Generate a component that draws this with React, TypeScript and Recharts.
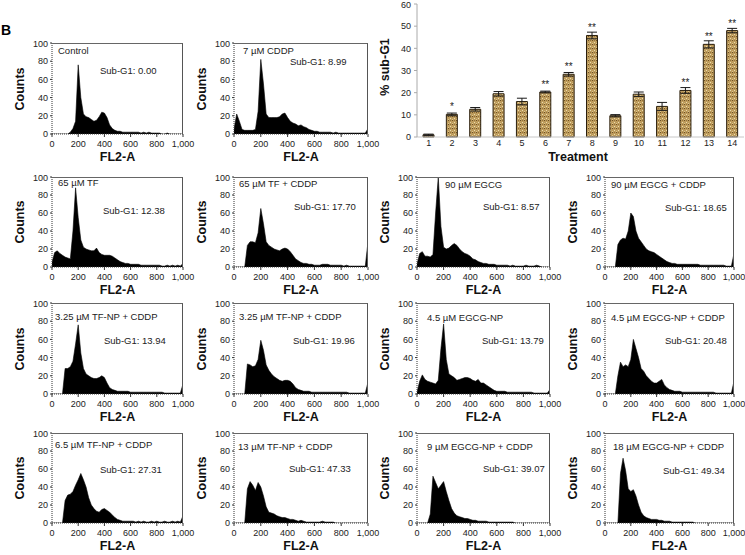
import { Area, AreaChart, Bar, BarChart, ErrorBar, LabelList, XAxis, YAxis } from 'recharts'

const FONT = '"Liberation Sans", Arial, sans-serif'

// FL2-A bins (channel), shared by every histogram
const fl2Bins = [
  0, 20, 40, 60, 80, 100, 120, 140, 160, 180, 200, 220, 240, 260, 280, 300, 320, 340, 360, 380, 400, 420, 440, 460,
  480, 500, 520, 540, 560, 580, 600, 620, 640, 660, 680, 700, 720, 740, 760, 780, 800, 820, 840, 860, 880, 900, 920,
  940, 960, 980, 1000,
]
const xTicks = [0, 200, 400, 600, 800, 1000]
const yTicks = [0, 20, 40, 60, 80, 100]

// counts per bin
const controlCounts = [0, 0, 0, 0, 0, 0, 0, 2, 6, 14, 76, 40, 22, 19, 18, 16, 14, 15, 19, 24, 23, 18, 10, 6, 4, 3, 3, 2, 2, 2, 2, 2, 2, 2, 1, 2, 1, 2, 1, 1, 1, 1, 0, 0, 1, 0, 0, 0, 0, 0, 0]
const cddpCounts = [5, 22, 14, 5, 4, 4, 4, 4, 5, 25, 82, 55, 22, 18, 18, 18, 18, 19, 22, 23, 18, 14, 12, 11, 9, 10, 8, 7, 5, 4, 3, 3, 2, 2, 2, 2, 2, 1, 2, 1, 1, 1, 1, 1, 1, 1, 1, 1, 1, 1, 6]
const tfCounts = [5, 16, 18, 15, 13, 11, 10, 9, 40, 88, 55, 30, 22, 20, 19, 18, 18, 21, 16, 14, 13, 13, 13, 12, 10, 8, 6, 5, 4, 4, 3, 3, 3, 3, 2, 2, 2, 2, 2, 2, 2, 2, 1, 1, 2, 1, 2, 1, 2, 1, 4]
const tfCddpCounts = [0, 0, 0, 0, 0, 24, 28, 28, 27, 38, 65, 48, 28, 24, 22, 20, 19, 18, 20, 21, 20, 17, 13, 9, 7, 5, 4, 4, 3, 3, 2, 2, 2, 3, 3, 3, 2, 2, 2, 2, 2, 1, 2, 1, 1, 1, 1, 1, 1, 1, 28]
const egcgCounts = [3, 15, 17, 12, 12, 11, 14, 60, 100, 45, 22, 20, 21, 24, 26, 24, 20, 17, 15, 14, 12, 9, 8, 6, 5, 4, 4, 3, 3, 3, 2, 2, 2, 2, 2, 1, 2, 1, 1, 1, 1, 2, 1, 1, 1, 2, 1, 0, 0, 0, 0]
const egcgCddpCounts = [0, 0, 0, 0, 0, 25, 30, 32, 31, 40, 60, 56, 40, 32, 28, 24, 20, 18, 17, 16, 14, 12, 10, 8, 6, 5, 4, 4, 3, 3, 3, 3, 3, 3, 3, 3, 3, 2, 2, 2, 2, 2, 2, 2, 2, 2, 2, 1, 1, 1, 15]
const tfNp325aCounts = [0, 0, 0, 0, 0, 28, 28, 30, 36, 55, 76, 45, 28, 22, 20, 18, 17, 17, 18, 20, 18, 12, 7, 5, 4, 3, 3, 3, 3, 3, 2, 2, 2, 2, 2, 2, 2, 2, 2, 2, 2, 2, 2, 1, 1, 1, 1, 1, 1, 1, 11]
const tfNp325bCounts = [0, 0, 0, 0, 0, 33, 32, 30, 31, 38, 59, 48, 32, 26, 22, 19, 17, 15, 14, 15, 15, 14, 11, 7, 5, 4, 3, 3, 3, 2, 2, 2, 2, 2, 2, 2, 2, 2, 2, 2, 2, 2, 2, 1, 1, 1, 1, 1, 1, 1, 13]
const egcgNp45Counts = [2, 14, 21, 16, 14, 13, 12, 11, 15, 50, 77, 38, 22, 20, 18, 15, 16, 17, 18, 18, 17, 15, 14, 16, 12, 12, 10, 8, 6, 4, 3, 3, 3, 3, 2, 2, 2, 2, 2, 2, 2, 2, 2, 2, 1, 1, 1, 1, 1, 1, 5]
const egcgNp45CddpCounts = [0, 0, 0, 0, 0, 20, 35, 30, 32, 30, 38, 60, 50, 40, 28, 25, 20, 17, 14, 12, 12, 14, 16, 10, 7, 5, 4, 3, 3, 3, 2, 2, 2, 2, 2, 2, 2, 2, 2, 2, 2, 2, 2, 1, 1, 1, 1, 1, 1, 1, 14]
const tfNp65CddpCounts = [0, 0, 0, 0, 0, 25, 31, 32, 35, 42, 48, 55, 48, 40, 28, 20, 16, 13, 12, 15, 16, 14, 12, 9, 6, 4, 3, 2, 2, 2, 2, 2, 1, 2, 1, 2, 1, 1, 2, 1, 2, 1, 1, 2, 1, 1, 2, 1, 2, 1, 8]
const tfNp13CddpCounts = [0, 0, 0, 0, 0, 38, 46, 42, 36, 45, 40, 30, 18, 12, 11, 10, 8, 7, 6, 6, 5, 4, 4, 3, 2, 3, 2, 1, 1, 1, 1, 1, 1, 2, 1, 1, 1, 1, 0, 0, 0, 0, 0, 0, 0, 0, 0, 0, 0, 0, 0]
const egcgNp9CddpCounts = [0, 0, 0, 0, 0, 10, 52, 45, 38, 42, 46, 35, 25, 16, 11, 8, 7, 6, 5, 5, 4, 3, 3, 2, 2, 2, 2, 1, 1, 1, 1, 1, 1, 1, 1, 1, 1, 0, 0, 0, 0, 0, 0, 0, 0, 0, 0, 0, 0, 0, 0]
const egcgNp18CddpCounts = [0, 0, 0, 0, 0, 0, 55, 72, 58, 38, 35, 37, 30, 20, 12, 8, 6, 5, 4, 4, 4, 3, 3, 2, 2, 2, 1, 1, 1, 1, 1, 1, 1, 1, 1, 0, 0, 0, 0, 0, 0, 0, 0, 0, 0, 0, 0, 0, 0, 0, 0]

const panelTitles = [
  'Control', '7 µM CDDP', '65 µM TF', '65 µM TF + CDDP', '90 µM EGCG', '90 µM EGCG + CDDP',
  '3.25 µM TF-NP + CDDP', '3.25 µM TF-NP + CDDP', '4.5 µM EGCG-NP', '4.5 µM EGCG-NP + CDDP',
  '6.5 µM TF-NP + CDDP', '13 µM TF-NP + CDDP', '9 µM EGCG-NP + CDDP', '18 µM EGCG-NP + CDDP',
]
const panelSubG1 = ['0.00', '8.99', '12.38', '17.70', '8.57', '18.65', '13.94', '19.96', '13.79', '20.48', '27.31', '47.33', '39.07', '49.34']

// bar chart: % sub-G1 by treatment
const treatments = ['1', '2', '3', '4', '5', '6', '7', '8', '9', '10', '11', '12', '13', '14']
const subG1Mean = [1.0, 10.2, 12.5, 19.5, 16.0, 20.3, 28.3, 45.8, 9.6, 19.3, 13.8, 21.0, 41.8, 48.0]
const subG1Err = [0.3, 0.6, 0.8, 1.0, 1.5, 0.4, 0.8, 1.5, 0.5, 1.0, 1.8, 1.3, 1.6, 1.0]
const subG1Sig = ['', '*', '', '', '', '**', '**', '**', '', '', '', '**', '**', '**']

const colLeft = [52, 234, 417, 605]
const colWidth = [131, 134, 133, 129]
const rowTop = [43, 177, 303, 433]
const rowHeight = [91, 90, 91, 90]

// layout: which cell, where the two annotations sit (offsets inside plot)
const panels = [
  { counts: controlCounts, row: 0, col: 0, tx: 6, ty: 8, sx: 48, sy: 28 },
  { counts: cddpCounts, row: 0, col: 1, tx: 9, ty: 8, sx: 56, sy: 19 },
  { counts: tfCounts, row: 1, col: 0, tx: 6, ty: 6, sx: 51, sy: 34 },
  { counts: tfCddpCounts, row: 1, col: 1, tx: 5, ty: 7, sx: 60, sy: 30 },
  { counts: egcgCounts, row: 1, col: 2, tx: 28, ty: 8, sx: 66, sy: 30 },
  { counts: egcgCddpCounts, row: 1, col: 3, tx: 6, ty: 8, sx: 60, sy: 31 },
  { counts: tfNp325aCounts, row: 2, col: 0, tx: 3, ty: 14, sx: 52, sy: 38 },
  { counts: tfNp325bCounts, row: 2, col: 1, tx: 5, ty: 14, sx: 59, sy: 38 },
  { counts: egcgNp45Counts, row: 2, col: 2, tx: 10, ty: 15, sx: 65, sy: 38 },
  { counts: egcgNp45CddpCounts, row: 2, col: 3, tx: 6, ty: 15, sx: 60, sy: 38 },
  { counts: tfNp65CddpCounts, row: 3, col: 0, tx: 3, ty: 12, sx: 48, sy: 37 },
  { counts: tfNp13CddpCounts, row: 3, col: 1, tx: 4, ty: 14, sx: 55, sy: 36 },
  { counts: egcgNp9CddpCounts, row: 3, col: 2, tx: 10, ty: 14, sx: 66, sy: 36 },
  { counts: egcgNp18CddpCounts, row: 3, col: 3, tx: 8, ty: 14, sx: 58, sy: 38 },
]

const tickStyle = { fontSize: 9, fill: '#222', fontFamily: FONT }
const fmtFl2 = (v: number) => (v === 1000 ? '1,000' : String(v))

function Histogram({ idx }: { idx: number }) {
  const p = panels[idx]
  const left = colLeft[p.col]
  const width = colWidth[p.col]
  const top = rowTop[p.row]
  const height = rowHeight[p.row]
  const data = fl2Bins.map((x, i) => ({ x, y: p.counts[i] }))
  const txt = { position: 'absolute' as const, fontSize: 9.5, lineHeight: '12px', whiteSpace: 'nowrap' as const, color: '#222' }

  return (
    <>
      <div style={{ position: 'absolute', left: left - 26, top: top - 4 }}>
        <AreaChart width={width + 40} height={height + 26} data={data} margin={{ top: 4, right: 14, left: 0, bottom: 0 }}>
          <XAxis
            type="number"
            dataKey="x"
            domain={[0, 1000]}
            ticks={xTicks}
            tickFormatter={fmtFl2}
            height={22}
            tickSize={3}
            tickMargin={4}
            axisLine={{ stroke: '#333', strokeDasharray: '1 1' }}
            tickLine={{ stroke: '#333' }}
            tick={tickStyle}
            allowDataOverflow
          />
          <YAxis
            domain={[0, 100]}
            ticks={yTicks}
            width={26}
            tickSize={2}
            tickMargin={2}
            axisLine={{ stroke: '#333', strokeDasharray: '1 1' }}
            tickLine={{ stroke: '#333' }}
            tick={tickStyle}
            allowDataOverflow
          />
          <Area
            type="linear"
            dataKey="y"
            stroke="#000"
            strokeWidth={0.6}
            fill="#000"
            fillOpacity={1}
            dot={false}
            activeDot={false}
            isAnimationActive={false}
          />
        </AreaChart>
      </div>
      <div
        style={{
          position: 'absolute',
          left,
          top,
          width,
          height,
          boxSizing: 'border-box',
          borderTop: '1px solid #666',
          borderRight: '1px solid #555',
          pointerEvents: 'none',
        }}
      />
      <div style={{ ...txt, left: left + p.tx, top: top + p.ty - 6 }}>{panelTitles[idx]}</div>
      <div style={{ ...txt, left: left + p.sx, top: top + p.sy - 6 }}>Sub-G1: {panelSubG1[idx]}</div>
      <div
        style={{
          position: 'absolute',
          left: left - 32 - 30,
          top: top + height / 2 - 7,
          width: 60,
          height: 14,
          lineHeight: '14px',
          textAlign: 'center',
          fontSize: 12.5,
          fontWeight: 'bold',
          transform: 'rotate(-90deg)',
          color: '#111',
        }}
      >
        Counts
      </div>
      <div
        style={{
          position: 'absolute',
          left: left + width / 2 - 50,
          top: top + height + 23 - 7,
          width: 100,
          lineHeight: '14px',
          textAlign: 'center',
          fontSize: 12.5,
          fontWeight: 'bold',
          color: '#111',
        }}
      >
        FL2-A
      </div>
    </>
  )
}

// asterisks sit just above each bar
const renderSig = (props: any) => {
  const { x, y, width, value } = props
  if (!value) return null
  return (
    <text x={Number(x) + Number(width) / 2} y={Number(y) - 4} textAnchor="middle" fill="#222" fontSize={10} fontFamily={FONT}>
      {value}
    </text>
  )
}

function SubG1Bars() {
  const data = treatments.map((t, i) => ({ t, v: subG1Mean[i], e: subG1Err[i], sig: subG1Sig[i] }))
  return (
    <>
      <div style={{ position: 'absolute', left: 380, top: 0 }}>
        <BarChart width={365} height={151} data={data} margin={{ top: 4, right: 1, left: 7, bottom: 0 }}>
          <defs>
            <pattern id="burlap" width="4" height="4" patternUnits="userSpaceOnUse">
              <rect width="4" height="4" fill="#bd9b5c" />
              <rect x="0" y="0" width="1" height="1" fill="#6e5024" />
              <rect x="2" y="2" width="1" height="1" fill="#ecdcac" />
              <rect x="2" y="0" width="1" height="1" fill="#94733c" />
              <rect x="0" y="3" width="1" height="1" fill="#dcc68c" />
            </pattern>
          </defs>
          <XAxis
            dataKey="t"
            height={14}
            tickSize={1}
            tickMargin={2}
            tickLine={false}
            interval={0}
            axisLine={{ stroke: '#c8c8c8' }}
            tick={tickStyle}
          />
          <YAxis
            domain={[0, 60]}
            ticks={[0, 10, 20, 30, 40, 50, 60]}
            width={30}
            tickSize={3}
            tickMargin={3}
            axisLine={{ stroke: '#aaa' }}
            tickLine={{ stroke: '#aaa' }}
            tick={tickStyle}
          />
          <Bar dataKey="v" fill="url(#burlap)" stroke="#2a1e0c" strokeWidth={1} barSize={11} isAnimationActive={false}>
            <ErrorBar dataKey="e" width={5} stroke="#1a1a1a" strokeWidth={1} direction="y" />
            <LabelList dataKey="sig" content={renderSig} />
          </Bar>
        </BarChart>
      </div>
      <div
        style={{
          position: 'absolute',
          left: 385 - 40,
          top: 67 - 8,
          width: 80,
          height: 16,
          lineHeight: '16px',
          textAlign: 'center',
          fontSize: 12.5,
          fontWeight: 'bold',
          transform: 'rotate(-90deg)',
          color: '#111',
        }}
      >
        % sub-G1
      </div>
      <div
        style={{
          position: 'absolute',
          left: 578 - 50,
          top: 157 - 7,
          width: 100,
          lineHeight: '14px',
          textAlign: 'center',
          fontSize: 12.5,
          fontWeight: 'bold',
          color: '#111',
        }}
      >
        Treatment
      </div>
    </>
  )
}

export default function App() {
  return (
    <div
      style={{
        position: 'absolute',
        left: 0,
        top: 0,
        width: 745,
        height: 555,
        background: '#fff',
        fontFamily: FONT,
        overflow: 'hidden',
      }}
    >
      <div style={{ position: 'absolute', left: 1, top: 22, fontSize: 14, fontWeight: 'bold', lineHeight: '16px' }}>B</div>
      {panels.map((_, i) => (
        <Histogram key={i} idx={i} />
      ))}
      <SubG1Bars />
    </div>
  )
}
